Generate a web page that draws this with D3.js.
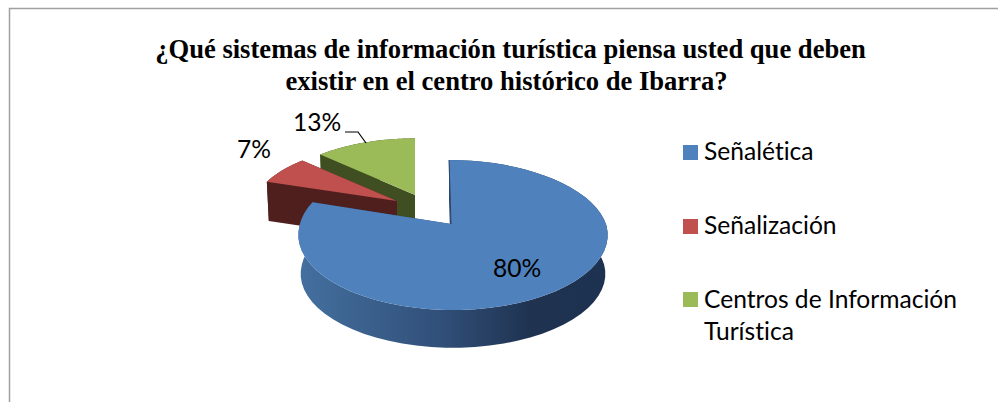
<!DOCTYPE html>
<html><head><meta charset="utf-8">
<script src="https://cdn.jsdelivr.net/npm/d3@7"></script>
<style>html,body{margin:0;padding:0;background:#fff;overflow:hidden}svg{display:block}text{font-variant-ligatures:none}</style>
</head><body><svg id="c" width="998" height="402"></svg>
<script>
const categories=["Señalética","Señalización","Centros de Información Turística"];
const values=[80,7,13];
const titleLines=["¿Qué sistemas de información turística piensa usted que deben","existir en el centro histórico de Ibarra?"];
const topColors=["#4f81bd","#c0504d","#9bbb59"];
const wallColors=["#2b4468","#4f1f1e","#404f22"];
const apexes=[[451,224],[397,201],[415,195]];
const scalesX=[1,0.935,0.935];
const scalesY=[1,0.885,0.885];
const depth=39;
const svg=d3.select("#c");
const defs=svg.append("defs");
const grad=defs.append("linearGradient").attr("id","side").attr("gradientUnits","userSpaceOnUse")
 .attr("x1",298).attr("x2",608).attr("y1",0).attr("y2",0);
grad.append("stop").attr("offset",0).attr("stop-color","#44709f");
grad.append("stop").attr("offset",0.45).attr("stop-color","#31507a");
grad.append("stop").attr("offset",0.75).attr("stop-color","#1f3351");
grad.append("stop").attr("offset",1).attr("stop-color","#1d3150");
svg.append("path").attr("d","M9.5,402V8.5H998").attr("fill","none").attr("stroke","#a0a0a0").attr("stroke-width",1.5);
svg.append("g").selectAll("text").data(titleLines).join("text")
 .attr("x",(d,i)=>[510.5,506.5][i]).attr("y",(d,i)=>[58,90][i]).attr("text-anchor","middle")
 .attr("font-family","'Liberation Serif'").attr("font-weight","bold").attr("font-size",26.6).attr("fill","#000").text(d=>d);
const arcs=d3.pie().sort(null).value(d=>d)(values);
const persp=0.1467,kx=153,ky=73.4;
function project(i,a,r,drop){
 const f=drop?0.985:1,u=r*Math.sin(a),v=-r*Math.cos(a),w=1-persp*v;
 const shear=i===0?2*r+4*Math.min(v,0):0;
 return [apexes[i][0]+shear+f*scalesX[i]*kx*u/w, apexes[i][1]+(drop?depth:0)+f*scalesY[i]*ky*v/w];
}
const line=d3.line();
const rim=(a0,a1)=>d3.range(0,61).map(k=>a0+(a1-a0)*k/60);
const g=svg.append("g");
[2,1,0].forEach(i=>{
 const d=arcs[i],A=rim(d.startAngle,d.endAngle);
 const fill=i===0?"url(#side)":wallColors[i];
 g.append("path").attr("fill",fill).attr("d",line(A.map(a=>project(i,a,1,false)).concat(A.slice().reverse().map(a=>project(i,a,1,true))))+"Z");
 [d.startAngle,d.endAngle].forEach(a=>{
  g.append("path").attr("fill",i===0?"#2b4468":wallColors[i]).attr("d",line([project(i,a,1,false),project(i,a,0,false),project(i,a,0,true),project(i,a,1,true)])+"Z");
 });
 g.append("path").attr("fill",topColors[i]).attr("d",line([project(i,0,0,false)].concat(A.map(a=>project(i,a,1,false))))+"Z");
 if(i===0) g.append("path").attr("fill","none").attr("stroke","#2b4468").attr("stroke-width",1)
  .attr("d",line([project(i,d.startAngle,1,false),project(i,d.startAngle,0,false)]));
});
const labelFont="Lato",labelSize=24.6;
const labels=svg.append("g").attr("font-family",labelFont).attr("font-size",labelSize).attr("fill","#000");
const labelPos=[[517,277],[254,158],[317,131]];
labels.selectAll("text").data(values).join("text").attr("text-anchor","middle")
 .attr("x",(d,i)=>labelPos[i][0]).attr("y",(d,i)=>labelPos[i][1]).text(d=>d+"%");
svg.append("path").attr("d","M345,132H358L366,143").attr("fill","none").attr("stroke","#000").attr("stroke-width",1.2);
const leg=svg.append("g").attr("font-family",labelFont).attr("font-size",labelSize).attr("fill","#000");
categories.forEach((c,i)=>{
 leg.append("rect").attr("x",683).attr("y",[145,219,292][i]).attr("width",15).attr("height",15).attr("fill",topColors[i]);
});
const legLines=[["Señalética"],["Señalización"],["Centros de Información","Turística"]];
legLines.forEach((ls,i)=>ls.forEach((t,j)=>{
 leg.append("text").attr("x",704).attr("y",[160,234,308][i]+j*32).text(t);
}));
</script></body></html>
